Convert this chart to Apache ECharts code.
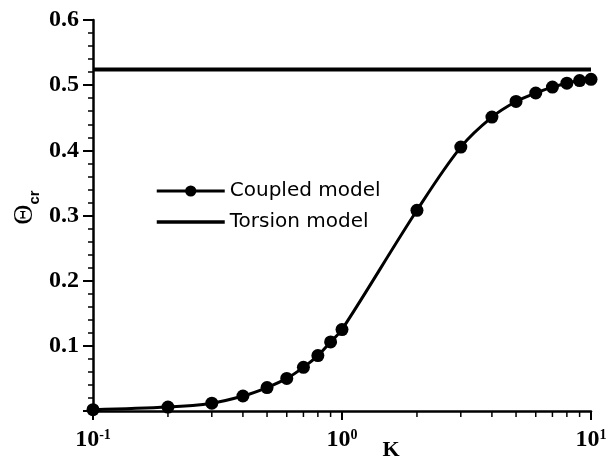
<!DOCTYPE html>
<html>
<head>
<meta charset="UTF-8">
<title>critical angle</title>
<style>
    html, body { margin: 0; padding: 0; background: #fff; }
    #show { width: 608px; height: 458px; }
</style>
</head>
<body>
<div id="show"></div>
<script src="https://cdn.jsdelivr.net/npm/echarts@6/dist/echarts.min.js"></script>
<script>
    // K values and critical angle
    var kValues = [0.1, 0.2, 0.3, 0.4, 0.5, 0.6, 0.7, 0.8, 0.9, 1, 2, 3, 4, 5, 6, 7, 8, 9, 10];
    var coupled = [0.002, 0.006, 0.012, 0.023, 0.036, 0.050, 0.067, 0.085, 0.106, 0.125,
                   0.308, 0.405, 0.451, 0.475, 0.488, 0.497, 0.503, 0.507, 0.509];
    var torsionK = [0.1, 10];
    var torsion = [0.524, 0.524];
    var minorK = [0.2, 0.3, 0.4, 0.5, 0.6, 0.7, 0.8, 0.9, 2, 3, 4, 5, 6, 7, 8, 9];

    var serif = 'Liberation Serif';
    var sans = 'DejaVu Sans';

    function pairs(xs, ys) {
        return xs.map(function (x, i) { return [x, ys[i]]; });
    }

    var chart = echarts.init(document.getElementById('show'));
    chart.setOption({
        animation: false,
        grid: { left: 93, right: 17, top: 20, bottom: 47, outerBoundsMode: 'none' },
        legend: {
            orient: 'vertical',
            left: 155,
            top: 181,
            padding: 0,
            itemWidth: 68,
            itemHeight: 14,
            itemGap: 11,
            data: [
                { name: 'Coupled model', lineStyle: { width: 3 } },
                { name: 'Torsion model', lineStyle: { width: 3.5 }, itemStyle: { opacity: 0 } }
            ],
            textStyle: { fontFamily: sans, fontSize: 20, color: '#000' }
        },
        xAxis: {
            type: 'log',
            logBase: 10,
            min: 0.1,
            max: 10,
            name: 'K',
            nameLocation: 'middle',
            nameGap: 28,
            nameMoveOverlap: false,
            nameTextStyle: { fontFamily: serif, fontWeight: 'bold', fontSize: 22, color: '#000', padding: [0, 0, 0, 98] },
            axisLine: { lineStyle: { color: '#000', width: 2.5 } },
            axisTick: { length: 9, lineStyle: { color: '#000', width: 2 } },
            splitLine: { show: false },
            axisLabel: {
                margin: 17,
                formatter: function (v) {
                    return '{b|10}{s|' + Math.round(Math.log10(v)) + '}';
                },
                rich: {
                    b: { fontFamily: serif, fontWeight: 'bold', fontSize: 24, lineHeight: 24, color: '#000', verticalAlign: 'top' },
                    s: { fontFamily: serif, fontWeight: 'bold', fontSize: 14, lineHeight: 14, color: '#000', verticalAlign: 'top' }
                }
            }
        },
        yAxis: {
            type: 'value',
            min: 0,
            max: 0.6,
            interval: 0.1,
            name: '{t|\u0398}{s|cr}',
            nameLocation: 'middle',
            nameRotate: 90,
            nameGap: 54,
            nameMoveOverlap: false,
            nameTextStyle: {
                padding: [0, 0, 0, 16],
                rich: {
                    t: { fontFamily: serif, fontSize: 28, lineHeight: 28, color: '#000', verticalAlign: 'top' },
                    s: { fontFamily: 'Liberation Sans', fontWeight: 'bold', fontSize: 15, lineHeight: 15, color: '#000', padding: [20, 0, 0, 0] }
                }
            },
            axisLine: { show: true, lineStyle: { color: '#000', width: 2.5 } },
            axisTick: { show: true, length: 10, lineStyle: { color: '#000', width: 2 } },
            minorTick: { show: true, splitNumber: 5, length: 5, lineStyle: { color: '#000', width: 1.5 } },
            splitLine: { show: false },
            axisLabel: {
                margin: 14,
                fontFamily: serif,
                fontWeight: 'bold',
                fontSize: 24,
                color: '#000',
                formatter: function (v) { return v === 0 ? '' : v.toFixed(1); }
            }
        },
        series: [
            {
                name: 'Coupled model',
                type: 'line',
                smooth: 0.35,
                data: pairs(kValues, coupled),
                symbol: 'circle',
                symbolSize: 13,
                itemStyle: { color: '#000' },
                lineStyle: { color: '#000', width: 3 },
                z: 3
            },
            {
                name: 'Torsion model',
                type: 'line',
                data: pairs(torsionK, torsion),
                showSymbol: false,
                symbol: 'none',
                itemStyle: { color: '#000' },
                lineStyle: { color: '#000', width: 4 }
            },
            {
                // minor log ticks under the x axis
                type: 'custom',
                silent: true,
                clip: false,
                data: minorK.map(function (k) { return [k, 0]; }),
                renderItem: function (params, api) {
                    var p = api.coord([api.value(0), 0]);
                    return {
                        type: 'line',
                        shape: { x1: p[0], y1: p[1], x2: p[0], y2: p[1] + 6 },
                        style: { stroke: '#000', lineWidth: 1.5 }
                    };
                }
            }
        ]
    });
</script>
</body>
</html>
